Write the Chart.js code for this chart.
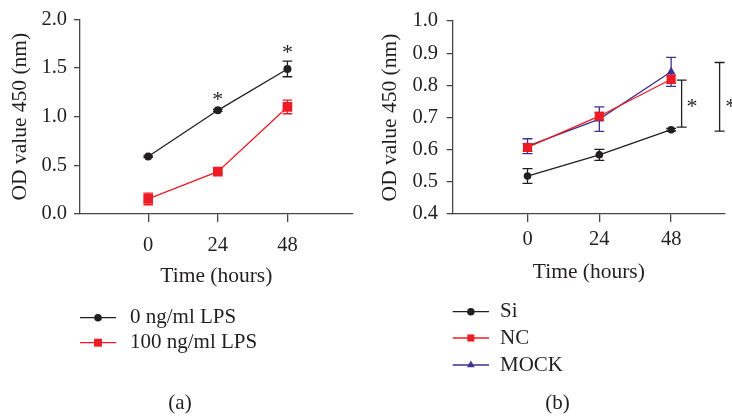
<!DOCTYPE html>
<html><head><meta charset="utf-8">
<script src="https://cdn.jsdelivr.net/npm/chart.js@4/dist/chart.umd.min.js"></script>
<style>
html,body{margin:0;padding:0;background:#fff;}
#wrap{position:relative;width:732px;height:417px;overflow:hidden;background:#fff;}
.panel{position:absolute;top:0;width:366px;height:417px;}
</style></head><body>
<div id="wrap">
  <div class="panel" style="left:0"><canvas id="ca" width="366" height="417"></canvas></div>
  <div class="panel" style="left:366px"><canvas id="cb" width="366" height="417"></canvas></div>
</div>
<script>
// ---------- data ----------
const hours = [0, 24, 48];
const xTickValues = [0, 24, 48];

// panel (a)
const aLabels = ['0 ng/ml LPS', '100 ng/ml LPS'];
const lps0Values = [0.59, 1.065, 1.49];
const lps0Errors = [0.008, 0.01, 0.08];
const lps100Values = [0.155, 0.435, 1.10];
const lps100Errors = [0.06, 0.015, 0.07];
const aYTicks = [0, 0.5, 1.0, 1.5, 2.0];
const aStarHours = [24, 48];
const aStarValues = [1.21, 1.69];

// panel (b)
const bLabels = ['Si', 'NC', 'MOCK'];
const siValues = [0.518, 0.584, 0.662];
const siErrors = [0.023, 0.017, 0.004];
const ncValues = [0.607, 0.704, 0.819];
const ncErrors = [0.012, 0.012, 0.013];
const mockValues = [0.611, 0.695, 0.842];
const mockErrors = [0.023, 0.038, 0.045];
const bYTicks = [0.4, 0.5, 0.6, 0.7, 0.8, 0.9, 1.0];
const bBracketHours = [51.5, 64.2];
const bBracketLow = [0.670, 0.6575];
const bBracketHigh = [0.816, 0.871];
const bStarHours = [55, 67.9];
const bStarValues = [0.745, 0.745];

// ---------- style ----------
const FONT = '"Liberation Serif", "Times New Roman", serif';
const TEXT = '#231f20';
const AXIS = '#474747';
const BLACK = '#231f20';
const RED = '#ed1c24';
const PURPLE = '#3e3191';
const TICK_SIZE = 20.5, TITLE_SIZE = 21.5, LEG_SIZE = 21;
Chart.defaults.font.family = FONT;
Chart.defaults.font.size = 20;
Chart.defaults.color = TEXT;

const pts = (vals) => hours.map((h, i) => ({x: h, y: vals[i]}));

function errorBars(capHalf) {
  return {
    id: 'errorBars',
    beforeDatasetsDraw(chart) {
      const ctx = chart.ctx, ys = chart.scales.y;
      chart.data.datasets.forEach((ds, di) => {
        if (!ds.errors) return;
        const meta = chart.getDatasetMeta(di);
        ctx.save();
        ctx.strokeStyle = ds.borderColor;
        ctx.lineWidth = 1.3;
        meta.data.forEach((pt, i) => {
          const v = ds.data[i].y, e = ds.errors[i];
          const x = pt.x;
          const yT = ys.getPixelForValue(v + e), yB = ys.getPixelForValue(v - e);
          ctx.beginPath();
          ctx.moveTo(x, yT); ctx.lineTo(x, yB);
          ctx.moveTo(x - capHalf, yT); ctx.lineTo(x + capHalf, yT);
          ctx.moveTo(x - capHalf, yB); ctx.lineTo(x + capHalf, yB);
          ctx.stroke();
        });
        ctx.restore();
      });
    }
  };
}

function drawStar(ctx, x, y) {
  ctx.save();
  ctx.font = '22px ' + FONT;
  ctx.fillStyle = TEXT;
  ctx.textAlign = 'center';
  ctx.textBaseline = 'alphabetic';
  const m = ctx.measureText('*');
  const off = (m.actualBoundingBoxAscent - m.actualBoundingBoxDescent) / 2;
  ctx.fillText('*', x, y + off);
  ctx.restore();
}

function decor(cfg) {
  return {
    id: 'decor',
    afterDraw(chart) {
      const ctx = chart.ctx, xs = chart.scales.x, ys = chart.scales.y;
      (cfg.brackets || []).forEach(b => {
        const x = xs.getPixelForValue(b.x);
        const yT = ys.getPixelForValue(b.hi), yB = ys.getPixelForValue(b.lo);
        ctx.save();
        ctx.strokeStyle = BLACK; ctx.lineWidth = 1.3;
        ctx.beginPath();
        ctx.moveTo(x, yT); ctx.lineTo(x, yB);
        ctx.moveTo(x - 5, yT); ctx.lineTo(x + 5, yT);
        ctx.moveTo(x - 5, yB); ctx.lineTo(x + 5, yB);
        ctx.stroke();
        ctx.restore();
      });
      (cfg.stars || []).forEach(s => drawStar(ctx, xs.getPixelForValue(s.x), ys.getPixelForValue(s.y)));
      const L = cfg.legend;
      chart.data.datasets.forEach((ds, i) => {
        const y = L.rows[i];
        ctx.save();
        ctx.strokeStyle = ds.borderColor; ctx.lineWidth = 1.3;
        ctx.beginPath(); ctx.moveTo(L.lineStart, y); ctx.lineTo(L.lineEnd, y); ctx.stroke();
        ctx.fillStyle = ds.pointBackgroundColor;
        Chart.helpers.drawPoint(ctx, {pointStyle: ds.pointStyle, radius: L.radii[i], rotation: 0, borderWidth: 0},
          (L.lineStart + L.lineEnd) / 2, y);
        ctx.font = LEG_SIZE + 'px ' + FONT;
        ctx.fillStyle = TEXT;
        ctx.textAlign = 'left'; ctx.textBaseline = 'middle';
        ctx.fillText(ds.label, L.textX, y);
        ctx.restore();
      });
      ctx.save();
      ctx.font = LEG_SIZE + 'px ' + FONT; ctx.fillStyle = TEXT;
      ctx.textAlign = 'center'; ctx.textBaseline = 'middle';
      ctx.fillText(cfg.panel.text, cfg.panel.x, cfg.panel.y);
      ctx.restore();
    }
  };
}

function axes(o) {
  return {
    x: {
      type: 'linear', min: o.xmin, max: o.xmax,
      afterBuildTicks: s => { s.ticks = xTickValues.map(v => ({value: v})); },
      afterFit: s => { s.height = o.xHeight; },
      ticks: {padding: o.xTickPad, color: TEXT, font: {size: TICK_SIZE}, callback: v => String(v), maxRotation: 0},
      grid: {display: true, drawOnChartArea: false, drawTicks: true, tickLength: 8, color: AXIS, lineWidth: 1.3},
      border: {display: true, color: AXIS, width: 1.3},
      title: {display: true, text: 'Time (hours)', color: TEXT, font: {size: TITLE_SIZE}, padding: {top: 0, bottom: o.xTitlePad}}
    },
    y: {
      type: 'linear', min: o.ymin, max: o.ymax,
      afterBuildTicks: s => { s.ticks = o.yTicks.map(v => ({value: v})); },
      afterFit: s => { s.width = o.yWidth; },
      ticks: {padding: o.yTickPad, color: TEXT, font: {size: TICK_SIZE}, callback: v => Number(v).toFixed(1)},
      grid: {display: true, drawOnChartArea: false, drawTicks: true, tickLength: 6, color: AXIS, lineWidth: 1.3},
      border: {display: true, color: AXIS, width: 1.3},
      title: {display: true, text: 'OD value 450 (nm)', color: TEXT, font: {size: TITLE_SIZE}, padding: {top: o.yTitlePad, bottom: 0}}
    }
  };
}

function ds(label, vals, errs, color, style, radius) {
  return {
    label, data: pts(vals), errors: errs,
    borderColor: color, backgroundColor: color,
    pointBackgroundColor: color, pointBorderColor: color,
    pointStyle: style, pointRadius: radius, pointBorderWidth: 0,
    borderWidth: 1.3, tension: 0, fill: false
  };
}

// ---------- panel (a) ----------
new Chart(document.getElementById('ca'), {
  type: 'line',
  data: {
    datasets: [
      ds(aLabels[0], lps0Values, lps0Errors, BLACK, 'circle', 4),
      ds(aLabels[1], lps100Values, lps100Errors, RED, 'rect', 6.8)
    ]
  },
  options: {
    responsive: false, animation: false, devicePixelRatio: 1,
    layout: {padding: {left: 0, top: 16, right: 13.3, bottom: 0}},
    plugins: {legend: {display: false}, tooltip: {enabled: false}},
    scales: axes({xmin: -23.5, xmax: 70.5, xHeight: 203, xTickPad: 11.4, xTitlePad: 128,
                  ymin: 0, ymax: 2, yTicks: aYTicks, yWidth: 80, yTickPad: 7, yTitlePad: 7.1})
  },
  plugins: [errorBars(4.8), decor({
    stars: aStarHours.map((h, i) => ({x: h, y: aStarValues[i]})),
    legend: {lineStart: 80, lineEnd: 116, textX: 130, rows: [317.7, 342.7], radii: [3.8, 5.6]},
    panel: {text: '(a)', x: 180, y: 403}
  })]
});

// ---------- panel (b) ----------
new Chart(document.getElementById('cb'), {
  type: 'line',
  data: {
    datasets: [
      ds(bLabels[0], siValues, siErrors, BLACK, 'circle', 3.8),
      ds(bLabels[1], ncValues, ncErrors, RED, 'rect', 6.4),
      ds(bLabels[2], mockValues, mockErrors, PURPLE, 'triangle', 5)
    ]
  },
  options: {
    responsive: false, animation: false, devicePixelRatio: 1,
    layout: {padding: {left: 0, top: 16, right: 7, bottom: 0}},
    plugins: {legend: {display: false}, tooltip: {enabled: false}},
    scales: axes({xmin: -25, xmax: 66, xHeight: 203, xTickPad: 5.7, xTitlePad: 132,
                  ymin: 0.4, ymax: 1.0, yTicks: bYTicks, yWidth: 86.7, yTickPad: 8.7, yTitlePad: 11.8})
  },
  plugins: [errorBars(5), decor({
    brackets: bBracketHours.map((h, i) => ({x: h, lo: bBracketLow[i], hi: bBracketHigh[i]})),
    stars: bStarHours.map((h, i) => ({x: h, y: bStarValues[i]})),
    legend: {lineStart: 86.7, lineEnd: 123, textX: 134, rows: [311.7, 338, 365], radii: [3.8, 5, 4.5]},
    panel: {text: '(b)', x: 191.5, y: 403}
  })]
});
</script>
</body></html>
